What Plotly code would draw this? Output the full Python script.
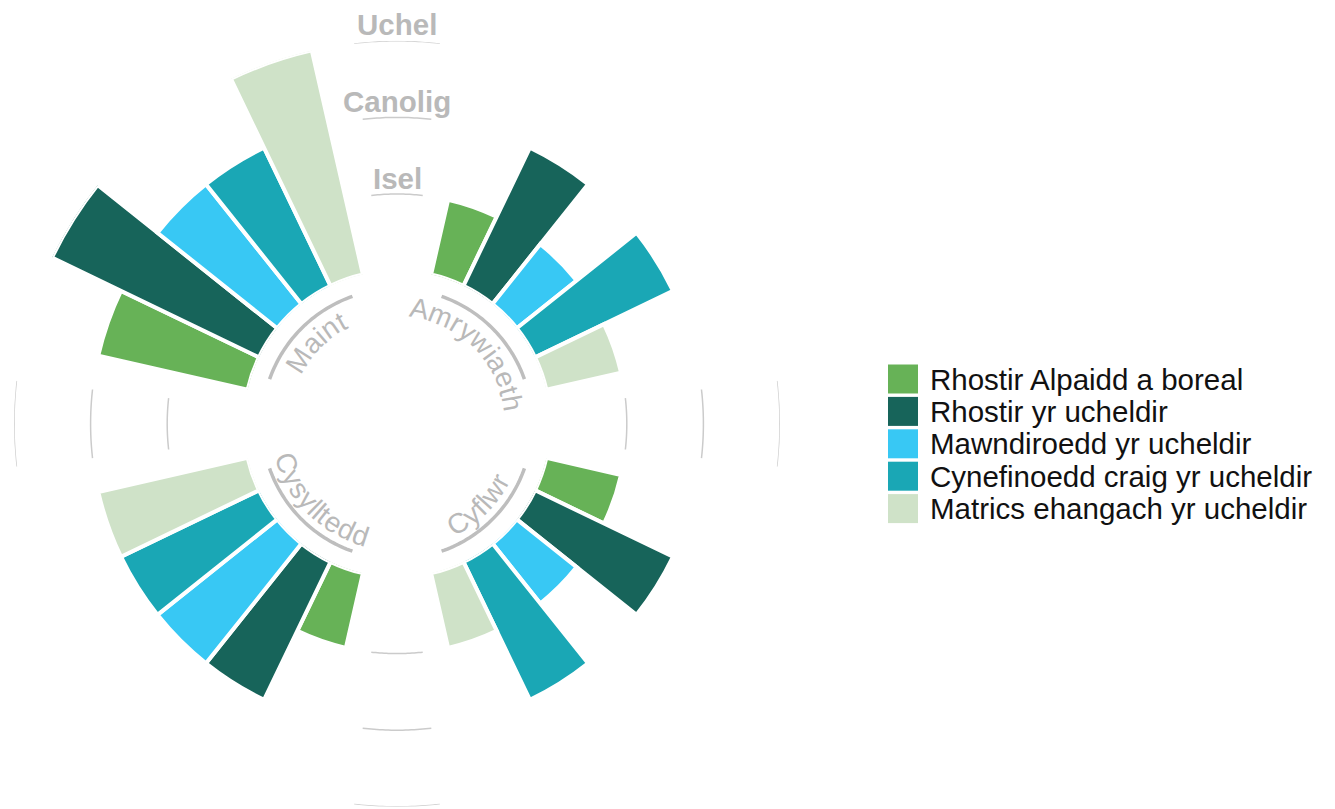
import math
import numpy as np
import plotly.graph_objects as go

# ---------------- data ----------------
habitats = [
    "Rhostir Alpaidd a boreal",
    "Rhostir yr ucheldir",
    "Mawndiroedd yr ucheldir",
    "Cynefinoedd craig yr ucheldir",
    "Matrics ehangach yr ucheldir",
]
groups = ["Amrywiaeth", "Cyflwr", "Cysylltedd", "Maint"]
# scores per group (1 = Isel, 2 = Canolig, 3 = Uchel)
rhostir_alpaidd = [1, 1, 1, 2]
rhostir_ucheldir = [2, 2, 2, 3]
mawndiroedd = [1, 1, 2, 2]
cynefinoedd_craig = [2, 2, 2, 2]
matrics = [1, 1, 2, 3]
series = [rhostir_alpaidd, rhostir_ucheldir, mawndiroedd, cynefinoedd_craig, matrics]
level_labels = ["Isel", "Canolig", "Uchel"]
level_values = [1, 2, 3]

# ---------------- style / geometry ----------------
colors = ["#67B257", "#17645A", "#38C8F4", "#1AA7B5", "#CFE2C8"]
W, H = 1335, 809
CX, CY, R = 397.0, 423.8, 383.0
HOLE = 0.4
RMAX = 3
N_SLOTS = 28
SLOT = 360.0 / N_SLOTS
FONT = "Arial, Liberation Sans, sans-serif"
GREY_TXT = "#B9B9B9"


def gcenter(g):
    return 45 + 90 * g


def rpx(v):
    return R * (HOLE + (1 - HOLE) * v / RMAX)


def to_paper(r, ang):
    a = math.radians(ang)
    x = CX + r * math.sin(a)
    y = CY - r * math.cos(a)
    return x / W, 1 - y / H


fig = go.Figure()

# bars
for j, (name, vals) in enumerate(zip(habitats, series)):
    thetas = [gcenter(g) + (j - 2) * SLOT for g in range(len(groups))]
    fig.add_trace(go.Barpolar(
        r=vals, theta=thetas, width=[SLOT] * len(groups), name=name,
        marker=dict(color=colors[j], line=dict(color="white", width=4)),
        showlegend=False, hoverinfo="skip",
    ))

# level grid arcs in the gaps between groups
for lv in level_values:
    for a in [0, 90, 180, 270]:
        th = np.linspace(a - SLOT / 2, a + SLOT / 2, 25)
        fig.add_trace(go.Scatterpolar(
            r=[lv] * len(th), theta=th, mode="lines",
            line=dict(color="#CBCBCB", width=1.5),
            showlegend=False, hoverinfo="skip",
        ))

shapes = []
annotations = []

# level labels at top
for lab, lv in zip(level_labels, level_values):
    x, y = to_paper(rpx(lv) + 16, 0)
    annotations.append(dict(
        x=x, y=y, xref="paper", yref="paper", text="<b>%s</b>" % lab,
        showarrow=False, xanchor="center", yanchor="middle",
        font=dict(family=FONT, size=29.5, color=GREY_TXT),
    ))

# group label arcs
R_ARC = 135
for g in range(len(groups)):
    gc = gcenter(g)
    angs = np.linspace(gc - 2 * SLOT, gc + 2 * SLOT, 40)
    pts = [to_paper(R_ARC, a) for a in angs]
    path = "M " + " L ".join("%.5f %.5f" % p for p in pts)
    shapes.append(dict(type="path", xref="paper", yref="paper", path=path,
                       line=dict(color="#BEBEBE", width=3.5)))

# curved group labels, character by character
CW = {"M": .833, "a": .556, "i": .222, "n": .556, "t": .278, "A": .667,
      "m": .833, "r": .333, "y": .5, "w": .722, "e": .556, "h": .556,
      "C": .722, "f": .278, "l": .222, "s": .5, "d": .556}
FS_CAT = 28
for g, name in enumerate(groups):
    gc = gcenter(g)
    top = math.cos(math.radians(gc)) > 0
    adv = [CW.get(c, .55) * FS_CAT for c in name]
    total = sum(adv)
    r_sp = 107.0 if top else 121.0
    r_a = 117.0
    span = math.degrees(total / r_sp)
    start = gc - span / 2 if top else gc + span / 2
    d = 1 if top else -1
    cum = 0.0
    for c, a in zip(name, adv):
        ang = start + d * math.degrees((cum + a / 2) / r_sp)
        cum += a
        ta = ang if top else ang - 180
        ta = (ta + 180) % 360 - 180
        x, y = to_paper(r_a, ang)
        annotations.append(dict(
            x=x, y=y, xref="paper", yref="paper", text=c, textangle=ta,
            showarrow=False, xanchor="center", yanchor="middle",
            font=dict(family=FONT, size=FS_CAT, color=GREY_TXT),
        ))

# legend (drawn manually)
LEG_X0, LEG_X1 = 888, 918
LEG_Y0, LEG_DY, LEG_H = 379.0, 32.4, 29
for j, name in enumerate(habitats):
    yc = LEG_Y0 + j * LEG_DY
    shapes.append(dict(type="rect", xref="paper", yref="paper",
                       x0=LEG_X0 / W, x1=LEG_X1 / W,
                       y0=1 - (yc - LEG_H / 2) / H, y1=1 - (yc + LEG_H / 2) / H,
                       fillcolor=colors[j], line=dict(width=0)))
    annotations.append(dict(
        x=928 / W, y=1 - yc / H, xref="paper", yref="paper", text=name,
        showarrow=False, xanchor="left", yanchor="middle",
        font=dict(family=FONT, size=29.5, color="#111111"),
    ))

fig.update_layout(
    width=W, height=H, autosize=False,
    margin=dict(l=0, r=0, t=0, b=0),
    paper_bgcolor="white", plot_bgcolor="white",
    polar=dict(
        domain=dict(x=[(CX - R) / W, (CX + R) / W],
                    y=[1 - (CY + R) / H, 1 - (CY - R) / H]),
        hole=HOLE,
        bgcolor="white",
        radialaxis=dict(range=[0, RMAX], visible=False, showgrid=False),
        angularaxis=dict(direction="clockwise", rotation=90, showgrid=False,
                         showline=False, showticklabels=False, ticks=""),
        barmode="overlay",
    ),
    shapes=shapes,
    annotations=annotations,
    showlegend=False,
)

fig.write_html("out.html",
               config={"displayModeBar": False},
               post_script="document.body.style.margin='0px';"
                           "document.body.style.overflow='hidden';")
